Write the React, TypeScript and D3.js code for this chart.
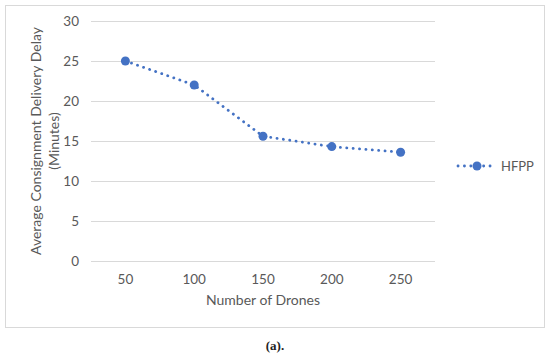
import { useEffect, useRef } from 'react';
import * as d3 from 'd3';

const drones = ['50', '100', '150', '200', '250'];
const delay = [25, 22, 15.6, 14.3, 13.6];
const yTicks = [0, 5, 10, 15, 20, 25, 30];
const seriesName = 'HFPP';

const BLUE = '#4472C4';
const FONT = 'Lato, "Open Sans", sans-serif';

export default function App() {
    const svgRef = useRef<SVGSVGElement>(null);

    useEffect(() => {
        if (!svgRef.current) return;
        const svg = d3.select(svgRef.current);
        svg.selectAll('*').remove();

        const plot = { left: 91, right: 435, top: 21, bottom: 261 };

        // outer chart border
        svg.append('rect')
            .attr('x', 5.5).attr('y', 5.5)
            .attr('width', 539).attr('height', 322)
            .attr('fill', 'white')
            .attr('stroke', '#d9d9d9');

        const x = d3.scalePoint<string>()
            .domain(drones)
            .range([plot.left, plot.right])
            .padding(0.5);

        const y = d3.scaleLinear()
            .domain([0, 30])
            .range([plot.bottom, plot.top]);

        // grid lines
        svg.append('g')
            .selectAll('line')
            .data(yTicks)
            .enter()
            .append('line')
            .attr('x1', plot.left).attr('x2', plot.right)
            .attr('y1', d => Math.round(y(d)) + 0.5)
            .attr('y2', d => Math.round(y(d)) + 0.5)
            .attr('stroke', '#d9d9d9')
            .attr('stroke-width', 1);

        // y tick labels
        svg.append('g')
            .selectAll('text')
            .data(yTicks)
            .enter()
            .append('text')
            .attr('x', 79)
            .attr('y', d => y(d))
            .attr('dy', '0.35em')
            .attr('text-anchor', 'end')
            .attr('font-family', FONT)
            .attr('font-size', 13.5)
            .attr('fill', '#595959')
            .text(d => d);

        // x tick labels
        svg.append('g')
            .selectAll('text')
            .data(drones)
            .enter()
            .append('text')
            .attr('x', d => x(d)!)
            .attr('y', 279)
            .attr('dy', '0.35em')
            .attr('text-anchor', 'middle')
            .attr('font-family', FONT)
            .attr('font-size', 13.5)
            .attr('fill', '#595959')
            .text(d => d);

        // axis titles
        svg.append('text')
            .attr('x', (plot.left + plot.right) / 2)
            .attr('y', 300)
            .attr('dy', '0.35em')
            .attr('text-anchor', 'middle')
            .attr('font-family', FONT)
            .attr('font-size', 14)
            .attr('fill', '#595959')
            .text('Number of Drones');

        const yTitle = svg.append('text')
            .attr('transform', 'translate(36,141) rotate(-90)')
            .attr('text-anchor', 'middle')
            .attr('font-family', FONT)
            .attr('font-size', 14)
            .attr('fill', '#595959');
        yTitle.append('tspan').attr('x', 0).attr('dy', '0.35em').text('Average Consignment Delivery Delay');
        yTitle.append('tspan').attr('x', 0).attr('dy', '1.3em').text('(Minutes)');

        // series line (dotted)
        const line = d3.line<number>()
            .x((_, i) => x(drones[i])!)
            .y(d => y(d));

        svg.append('path')
            .datum(delay)
            .attr('d', line)
            .attr('fill', 'none')
            .attr('stroke', BLUE)
            .attr('stroke-width', 2.8)
            .attr('stroke-linecap', 'round')
            .attr('stroke-dasharray', '0.1 6.3');

        svg.append('g')
            .selectAll('circle')
            .data(delay)
            .enter()
            .append('circle')
            .attr('cx', (_, i) => x(drones[i])!)
            .attr('cy', d => y(d))
            .attr('r', 4.5)
            .attr('fill', BLUE);

        // legend
        const lg = svg.append('g').attr('transform', 'translate(458,166)');
        lg.append('line')
            .attr('x1', 0).attr('x2', 36)
            .attr('y1', 0).attr('y2', 0)
            .attr('stroke', BLUE)
            .attr('stroke-width', 2.8)
            .attr('stroke-linecap', 'round')
            .attr('stroke-dasharray', '0.1 6.3');
        lg.append('circle').attr('cx', 19).attr('cy', 0).attr('r', 4.5).attr('fill', BLUE);
        lg.append('text')
            .attr('x', 43).attr('y', 0).attr('dy', '0.35em')
            .attr('font-family', FONT)
            .attr('font-size', 13)
            .attr('fill', '#595959')
            .text(seriesName);

        // caption
        svg.append('text')
            .attr('x', 275).attr('y', 345)
            .attr('dy', '0.35em')
            .attr('text-anchor', 'middle')
            .attr('font-family', '"Liberation Serif", "DejaVu Serif", serif')
            .attr('font-weight', 'bold')
            .attr('font-size', 13)
            .attr('fill', '#222')
            .text('(a).');
    }, []);

    return (
        <div style={{ position: 'absolute', left: 0, top: 0 }}>
            <svg ref={svgRef} width={550} height={358} style={{ display: 'block', background: 'white' }} />
        </div>
    );
}
